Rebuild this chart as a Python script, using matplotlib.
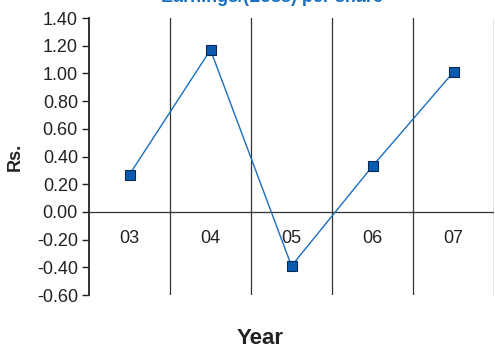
import matplotlib.pyplot as plt
from matplotlib.ticker import FixedLocator

plt.rcParams['font.family'] = ['Liberation Sans', 'DejaVu Sans']

years = ['03', '04', '05', '06', '07']
eps = [0.27, 1.17, -0.39, 0.33, 1.01]
yticks = [-0.60, -0.40, -0.20, 0.00, 0.20, 0.40, 0.60, 0.80, 1.00, 1.20, 1.40]

W, H = 495, 347
fig = plt.figure(figsize=(W / 100, H / 100), dpi=100)
ax = fig.add_axes([89 / W, 1 - 295 / H, (494 - 89) / W, (295 - 18) / H])

x = list(range(len(years)))
ax.plot(x, eps, color='#1a6fc0', lw=1.0, marker='s', ms=7,
        mfc='#0b5bb0', mec='#0a2a55', mew=0.8, zorder=3)

ax.set_xlim(-0.5, len(years) - 0.5)
ax.set_ylim(-0.6, 1.4)

# category separators and the zero line
for b in [i + 0.5 for i in x]:
    ax.axvline(b, color='#333333', lw=0.9, zorder=1)
ax.axhline(0, color='#333333', lw=0.9, zorder=1)

for i, lab in zip(x, years):
    ax.annotate(lab, (i, 0), xytext=(0, -19), textcoords='offset points',
                ha='center', va='center', fontsize=13, color='#222222')

for s in ['top', 'right', 'bottom']:
    ax.spines[s].set_visible(False)
ax.spines['left'].set_linewidth(1.3)
ax.spines['left'].set_color('#222222')

ax.yaxis.set_major_locator(FixedLocator(yticks))
ax.set_yticklabels([f'{v:.2f}' for v in yticks])
ax.tick_params(axis='y', direction='out', length=5, width=1, labelsize=13,
               colors='#222222', pad=3)
ax.set_xticks([])

fig.text(15 / W, 1 - 157 / H, 'Rs.', rotation=90, ha='center', va='center',
         fontsize=13, fontweight='bold', color='#222222')
fig.text(260 / W, 1 - 338 / H, 'Year', ha='center', va='center',
         fontsize=16, fontweight='bold', color='#222222')
fig.text(272 / W, 1 + 3 / H, 'Earnings/(Loss) per share', ha='center',
         va='center', fontsize=13, fontweight='bold', color='#1a6fc0')

fig.savefig('out.png', dpi=100)
